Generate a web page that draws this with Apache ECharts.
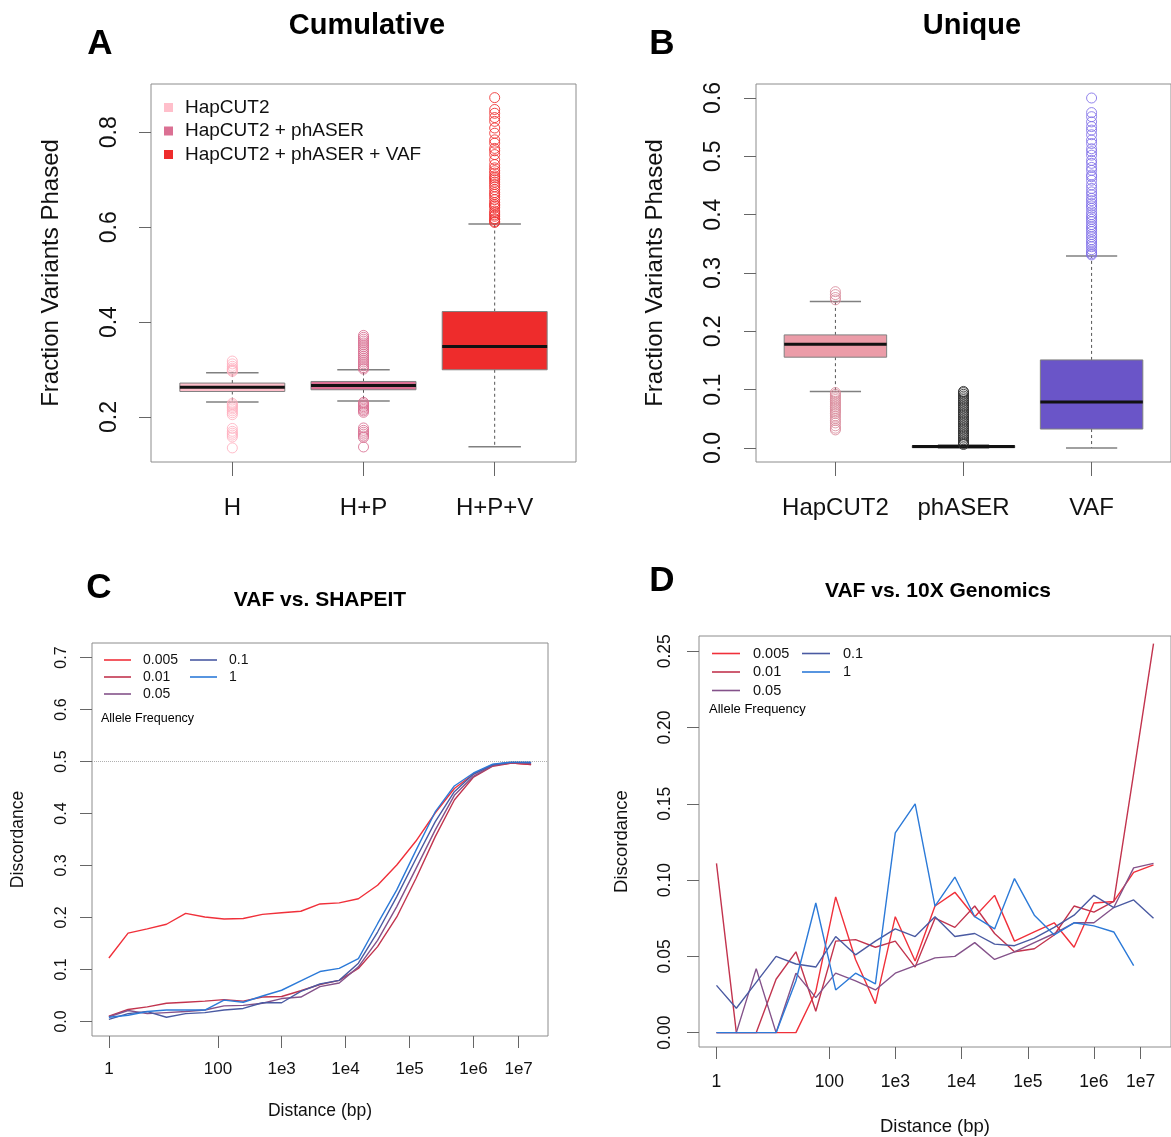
<!DOCTYPE html>
<html>
<head>
<meta charset="utf-8">
<script src="https://cdn.jsdelivr.net/npm/echarts@6/dist/echarts.min.js"></script>
<style>
  html, body { margin: 0; padding: 0; background: #fff; }
  #chart { width: 1171px; height: 1137px; }
</style>
</head>
<body>
<div id="chart"></div>
<script>
// ---- panel A / B : boxplots  [lowWhisker, q1, median, q3, highWhisker]
const cumCats = ['H', 'H+P', 'H+P+V'];
const cumNames = ['HapCUT2', 'HapCUT2 + phASER', 'HapCUT2 + phASER + VAF'];
const cumBoxes = [
  [0.2316, 0.2539, 0.2630, 0.2716, 0.2933],
  [0.2337, 0.2575, 0.2666, 0.2750, 0.2996],
  [0.1375, 0.2996, 0.3487, 0.4223, 0.6070]
];
const cumOutH = [0.318, 0.312, 0.307, 0.303, 0.300, 0.298, 0.296,
  0.229, 0.226, 0.223, 0.220, 0.217, 0.213, 0.209, 0.205,
  0.176, 0.170, 0.166, 0.162, 0.158, 0.135];
const cumOutHP = [0.372, 0.368, 0.364, 0.360, 0.356, 0.352, 0.348, 0.344, 0.340, 0.336,
  0.332, 0.328, 0.324, 0.320, 0.316, 0.312, 0.308, 0.304, 0.301,
  0.231, 0.228, 0.225, 0.222, 0.219, 0.216, 0.213, 0.210,
  0.177, 0.172, 0.168, 0.164, 0.160, 0.157, 0.137];
const cumOutHPV = [0.873, 0.848, 0.840, 0.831, 0.823, 0.809, 0.798, 0.784, 0.777, 0.766,
  0.761, 0.753, 0.742, 0.732, 0.725, 0.714, 0.704, 0.700, 0.690, 0.679, 0.669, 0.658,
  0.648, 0.641, 0.630, 0.623, 0.616, 0.610, 0.612, 0.618, 0.626, 0.634, 0.645, 0.652,
  0.664, 0.673, 0.685, 0.695, 0.708, 0.719];

const uniCats = ['HapCUT2', 'phASER', 'VAF'];
const uniBoxes = [
  [0.0969, 0.1557, 0.1780, 0.1939, 0.2510],
  [0.0000, 0.0005, 0.0027, 0.0040, 0.0050],
  [0.0000, 0.0325, 0.0787, 0.1510, 0.3290]
];
const uniOutHap = [0.268, 0.263, 0.258, 0.254,
  0.095, 0.092, 0.089, 0.086, 0.083, 0.080, 0.077, 0.074, 0.071, 0.068, 0.065,
  0.062, 0.059, 0.055, 0.051, 0.047, 0.043, 0.038, 0.034, 0.031];
const uniOutPha = [0.097, 0.095, 0.092, 0.089, 0.086, 0.083, 0.080, 0.077, 0.074, 0.071,
  0.068, 0.065, 0.062, 0.059, 0.056, 0.053, 0.050, 0.047, 0.044, 0.041, 0.038, 0.035,
  0.032, 0.029, 0.026, 0.023, 0.020, 0.017, 0.014, 0.011, 0.008, 0.006];
const uniOutVaf = [0.600, 0.575, 0.568, 0.559, 0.551, 0.545, 0.537, 0.528, 0.522, 0.513,
  0.508, 0.502, 0.493, 0.488, 0.481, 0.476, 0.468, 0.465, 0.459, 0.451, 0.445, 0.439,
  0.434, 0.428, 0.424, 0.419, 0.415, 0.411, 0.405, 0.400, 0.396, 0.392, 0.388, 0.383,
  0.379, 0.375, 0.371, 0.366, 0.362, 0.357, 0.353, 0.349, 0.345, 0.340, 0.336, 0.333, 0.331];

// ---- panel C / D : discordance by distance bin
const bins = [0, 1, 2, 3, 4, 5, 6, 7, 8, 9, 10, 11, 12, 13, 14, 15, 16, 17, 18, 19, 20, 21, 22];
const distTickPos = [0, 5.68, 9.0, 12.33, 15.67, 19.0, 21.35];
const distTickLabels = ['1', '100', '1e3', '1e4', '1e5', '1e6', '1e7'];
const afNames = ['0.005', '0.01', '0.05', '0.1', '1'];

const shapeit005 = [0.122, 0.170, 0.178, 0.187, 0.208, 0.201, 0.197, 0.198, 0.206, 0.209, 0.212, 0.226,
  0.228, 0.236, 0.262, 0.301, 0.347, 0.401, 0.448, 0.476, 0.493, 0.497, 0.494];
const shapeit01 = [0.010, 0.023, 0.028, 0.035, 0.037, 0.039, 0.042, 0.039, 0.047, 0.048, 0.059, 0.071,
  0.079, 0.102, 0.144, 0.201, 0.275, 0.355, 0.426, 0.470, 0.491, 0.497, 0.494];
const shapeit05 = [0.009, 0.021, 0.015, 0.017, 0.019, 0.022, 0.030, 0.031, 0.035, 0.044, 0.047, 0.067,
  0.074, 0.105, 0.156, 0.221, 0.294, 0.368, 0.435, 0.472, 0.492, 0.498, 0.496];
const shapeit1_ = [0.004, 0.015, 0.019, 0.008, 0.015, 0.017, 0.022, 0.025, 0.036, 0.036, 0.058, 0.072,
  0.079, 0.112, 0.172, 0.240, 0.313, 0.384, 0.442, 0.476, 0.494, 0.499, 0.498];
const shapeit1 = [0.008, 0.012, 0.019, 0.022, 0.022, 0.022, 0.041, 0.037, 0.049, 0.060, 0.078, 0.096,
  0.102, 0.121, 0.188, 0.253, 0.329, 0.403, 0.453, 0.478, 0.495, 0.499, 0.499];

const tenx005 = [0, 0, 0, 0, 0, 0.027, 0.089, 0.048, 0.019, 0.076, 0.047, 0.083,
  0.092, 0.076, 0.090, 0.060, 0.066, 0.072, 0.056, 0.085, 0.086, 0.105, 0.110];
const tenx01 = [0.111, 0, 0, 0.035, 0.053, 0.014, 0.060, 0.061, 0.056, 0.060, 0.043, 0.075,
  0.069, 0.083, 0.065, 0.053, 0.055, 0.064, 0.083, 0.079, 0.086, 0.170, 0.255];
const tenx05 = [0, 0, 0.042, 0, 0.039, 0.023, 0.039, 0.034, 0.028, 0.039, 0.044, 0.049,
  0.050, 0.059, 0.048, 0.053, 0.059, 0.065, 0.072, 0.072, 0.082, 0.108, 0.111];
const tenx1_ = [0.031, 0.016, 0.033, 0.050, 0.045, 0.043, 0.063, 0.051, 0.060, 0.068, 0.063, 0.076,
  0.063, 0.065, 0.058, 0.057, 0.062, 0.069, 0.077, 0.090, 0.082, 0.087, 0.075];
const tenx1 = [0, 0, 0, 0, 0.034, 0.085, 0.028, 0.039, 0.032, 0.131, 0.150, 0.083,
  0.102, 0.076, 0.068, 0.101, 0.077, 0.064, 0.072, 0.070, 0.066, 0.044, null];

const FONT = "'Liberation Sans', Arial, Helvetica, sans-serif";
const cumColors = ['#ffbfcb', '#db7093', '#ee2c2c'];
const cumOutColors = ['#ffb0c0', '#d86f90', '#ee2c2c'];
const uniColors = ['#eb9ca8', '#333333', '#6a55c8'];
const uniOutColors = ['#d8899a', '#2a2a2a', '#7f6ee8'];
const afColors = ['#f0303a', '#c2344e', '#84528a', '#4a5aa2', '#2c7ad8'];

const chart = echarts.init(document.getElementById('chart'));

// R-style box: dashed whiskers, short caps, filled box, thick median
function boxRender(fill) {
  return function (params, api) {
    const x = api.value(0);
    const lo = api.coord([x, api.value(1)]);
    const q1 = api.coord([x, api.value(2)]);
    const md = api.coord([x, api.value(3)]);
    const q3 = api.coord([x, api.value(4)]);
    const hi = api.coord([x, api.value(5)]);
    const bw = api.size([0.4, 0])[0];
    const cw = api.size([0.2, 0])[0];
    const cx = md[0];
    const dash = { stroke: '#555', lineWidth: 1, lineDash: [3, 3] };
    const cap = { stroke: '#808080', lineWidth: 1.5 };
    return {
      type: 'group',
      children: [
        { type: 'line', shape: { x1: cx, y1: q3[1], x2: cx, y2: hi[1] }, style: dash },
        { type: 'line', shape: { x1: cx, y1: q1[1], x2: cx, y2: lo[1] }, style: dash },
        { type: 'line', shape: { x1: cx - cw, y1: hi[1], x2: cx + cw, y2: hi[1] }, style: cap },
        { type: 'line', shape: { x1: cx - cw, y1: lo[1], x2: cx + cw, y2: lo[1] }, style: cap },
        { type: 'rect', shape: { x: cx - bw, y: q3[1], width: 2 * bw, height: Math.max(q1[1] - q3[1], 1) },
          style: { fill: fill, stroke: '#808080', lineWidth: 1 } },
        { type: 'line', shape: { x1: cx - bw, y1: md[1], x2: cx + bw, y2: md[1] }, style: { stroke: '#111', lineWidth: 3 } }
      ]
    };
  };
}

function boxSeries(name, idx, vals, fill, axis) {
  return {
    type: 'custom', name: name, xAxisIndex: axis, yAxisIndex: axis,
    renderItem: boxRender(fill),
    itemStyle: { color: fill },
    encode: { x: 0, y: [1, 2, 3, 4, 5] },
    data: [[idx + 1].concat(vals)],
    z: 2
  };
}

function outSeries(idx, vals, color, axis) {
  return {
    type: 'scatter', xAxisIndex: axis, yAxisIndex: axis,
    symbol: 'circle', symbolSize: 10,
    itemStyle: { color: 'rgba(0,0,0,0)', borderColor: color, borderWidth: 1, opacity: 0.85 },
    data: vals.map(v => [idx + 1, v]),
    z: 3
  };
}

function lineSeries(name, vals, color, axis, extra) {
  return Object.assign({
    type: 'line', name: name, xAxisIndex: axis, yAxisIndex: axis,
    symbol: 'none', showSymbol: false, connectNulls: false,
    lineStyle: { color: color, width: 1.4 },
    itemStyle: { color: color },
    data: bins.map((b, i) => [b, vals[i]])
  }, extra || {});
}

const tickStyle = { lineStyle: { color: '#666', width: 1 } };

function yAxisDef(grid, min, max, ticks, digits, fontSize, margin, nameGap, nameSize) {
  return {
    type: 'value', gridIndex: grid, min: min, max: max,
    name: grid < 2 ? 'Fraction Variants Phased' : 'Discordance',
    nameLocation: 'middle', nameGap: nameGap, nameRotate: 90,
    nameTextStyle: { fontFamily: FONT, fontSize: nameSize, color: '#111' },
    axisLine: { show: false, onZero: false },
    splitLine: { show: false },
    axisTick: Object.assign({ show: true, inside: false, length: 12, customValues: ticks }, tickStyle),
    axisLabel: {
      customValues: ticks, rotate: 90, margin: margin,
      fontFamily: FONT, fontSize: fontSize, color: '#111',
      formatter: v => Number(v).toFixed(digits)
    }
  };
}

function xAxisCat(grid, labels) {
  return {
    type: 'value', gridIndex: grid, min: 0.38, max: 3.62,
    axisLine: { show: false, onZero: false }, splitLine: { show: false },
    axisTick: Object.assign({ show: true, inside: false, length: 14, customValues: [1, 2, 3] }, tickStyle),
    axisLabel: {
      customValues: [1, 2, 3], margin: 34,
      fontFamily: FONT, fontSize: 24, color: '#111',
      formatter: v => labels[Math.round(v) - 1]
    }
  };
}

function xAxisDist(grid, fontSize, margin, nameGap, nameSize) {
  return {
    type: 'value', gridIndex: grid, min: -0.88, max: 22.88,
    name: 'Distance (bp)', nameLocation: 'middle', nameGap: nameGap,
    nameTextStyle: { fontFamily: FONT, fontSize: nameSize, color: '#111' },
    axisLine: { show: false, onZero: false }, splitLine: { show: false },
    axisTick: Object.assign({ show: true, inside: false, length: 12, customValues: distTickPos }, tickStyle),
    axisLabel: {
      customValues: distTickPos, margin: margin,
      fontFamily: FONT, fontSize: fontSize, color: '#111',
      formatter: v => {
        const k = distTickPos.findIndex(p => Math.abs(p - v) < 1e-6);
        return k >= 0 ? distTickLabels[k] : '';
      }
    }
  };
}

const gridStyle = { show: true, borderColor: '#8c8c8c', borderWidth: 1, backgroundColor: 'transparent' };

const series = [];
cumBoxes.forEach((b, i) => series.push(boxSeries(cumNames[i], i, b, cumColors[i], 0)));
series.push(outSeries(0, cumOutH, cumOutColors[0], 0));
series.push(outSeries(1, cumOutHP, cumOutColors[1], 0));
series.push(outSeries(2, cumOutHPV, cumOutColors[2], 0));
uniBoxes.forEach((b, i) => series.push(boxSeries('u-' + uniCats[i], i, b, uniColors[i], 1)));
series.push(outSeries(0, uniOutHap, uniOutColors[0], 1));
series.push(outSeries(1, uniOutPha, uniOutColors[1], 1));
series.push(outSeries(2, uniOutVaf, uniOutColors[2], 1));

const shapeitSets = [shapeit005, shapeit01, shapeit05, shapeit1_, shapeit1];
const tenxSets = [tenx005, tenx01, tenx05, tenx1_, tenx1];
shapeitSets.forEach((s, i) => series.push(lineSeries(afNames[i], s, afColors[i], 2,
  i === 0 ? { markLine: { silent: true, symbol: 'none', label: { show: false },
    lineStyle: { type: 'dotted', color: '#b0b0b0', width: 1 }, data: [{ yAxis: 0.5 }] } } : null)));
tenxSets.forEach((s, i) => series.push(lineSeries(afNames[i], s, afColors[i], 3)));

function afLegend(names, left, top, fontSize, itemWidth, gap, pad) {
  return {
    data: names, orient: 'vertical', left: left, top: top, padding: 0,
    icon: 'rect', itemWidth: itemWidth, itemHeight: 1.6, itemGap: gap,
    selectedMode: false,
    textStyle: { fontFamily: FONT, fontSize: fontSize, color: '#111', padding: [0, 0, 0, pad] }
  };
}

function label(text, x, y, size, bold, align) {
  return {
    type: 'text', x: x, y: y, silent: true,
    style: {
      text: text, fill: '#000', align: align || 'center', verticalAlign: 'middle',
      font: (bold ? 'bold ' : '') + size + 'px ' + FONT
    }
  };
}

const option = {
  animation: false,
  backgroundColor: '#fff',
  grid: [
    Object.assign({ left: 151, top: 84, width: 425, height: 378 }, gridStyle),
    Object.assign({ left: 756, top: 84, width: 425, height: 378 }, gridStyle),
    Object.assign({ left: 92, top: 643, width: 456, height: 393 }, gridStyle),
    Object.assign({ left: 699, top: 636, width: 479, height: 412 }, gridStyle)
  ],
  xAxis: [
    xAxisCat(0, cumCats),
    xAxisCat(1, uniCats),
    xAxisDist(2, 17, 25, 66, 17.5),
    xAxisDist(3, 17.5, 26, 70, 18.5)
  ],
  yAxis: [
    yAxisDef(0, 0.1053, 0.9017, [0.2, 0.4, 0.6, 0.8], 1, 23, 30, 88, 24),
    yAxisDef(1, -0.024, 0.624, [0, 0.1, 0.2, 0.3, 0.4, 0.5, 0.6], 1, 23, 31, 89, 24),
    yAxisDef(2, -0.028, 0.728, [0, 0.1, 0.2, 0.3, 0.4, 0.5, 0.6, 0.7], 1, 16, 22, 65, 17.5),
    yAxisDef(3, -0.0094, 0.26, [0, 0.05, 0.1, 0.15, 0.2, 0.25], 2, 17.5, 25, 68, 18.5)
  ],
  legend: [
    {
      data: cumNames, orient: 'vertical', left: 164, top: 98, padding: 0,
      icon: 'rect', itemWidth: 9, itemHeight: 9, itemGap: 4.5, selectedMode: false,
      itemStyle: { borderWidth: 0 },
      textStyle: { fontFamily: FONT, fontSize: 19, color: '#111', padding: [0, 0, 0, 7] }
    },
    afLegend(afNames.slice(0, 3), 104, 653, 14, 27, 3, 7),
    afLegend(afNames.slice(3), 190, 653, 14, 27, 3, 7),
    afLegend(afNames.slice(0, 3), 712, 646, 14.5, 28, 3.5, 8),
    afLegend(afNames.slice(3), 802, 646, 14.5, 28, 3.5, 8)
  ],
  graphic: [
    label('A', 100, 44, 35, true),
    label('B', 662, 44, 35, true),
    label('C', 99, 588, 35, true),
    label('D', 662, 581, 35, true),
    label('Cumulative', 367, 26, 29, true),
    label('Unique', 972, 26, 29, true),
    label('VAF vs. SHAPEIT', 320, 600, 21, true),
    label('VAF vs. 10X Genomics', 938, 591, 21, true),
    label('Allele Frequency', 101, 719, 12.5, false, 'left'),
    label('Allele Frequency', 709, 709, 13, false, 'left')
  ],
  series: series
};

chart.setOption(option);
</script>
</body>
</html>
